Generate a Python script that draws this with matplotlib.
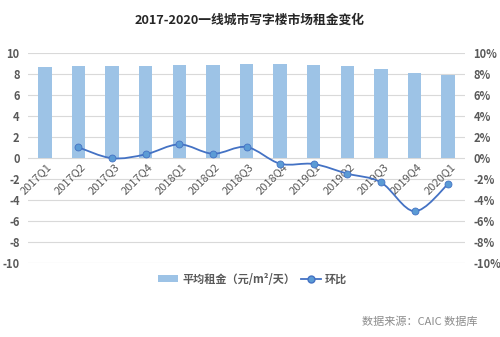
import matplotlib
matplotlib.use("Agg")
import matplotlib.pyplot as plt
from matplotlib.path import Path
from matplotlib.patches import PathPatch
from matplotlib.lines import Line2D
from matplotlib.patches import Patch
import numpy as np

plt.rcParams['font.family'] = ['Noto Sans CJK SC', 'DejaVu Sans']

categories = ["2017Q1", "2017Q2", "2017Q3", "2017Q4", "2018Q1", "2018Q2", "2018Q3",
              "2018Q4", "2019Q1", "2019Q2", "2019Q3", "2019Q4", "2020Q1"]
rent = [8.61, 8.70, 8.70, 8.70, 8.80, 8.86, 8.95, 8.90, 8.80, 8.70, 8.48, 8.04, 7.85]
qoq = [None, 0.99, -0.05, 0.32, 1.27, 0.38, 1.02, -0.57, -0.60, -1.52, -2.35, -5.10, -2.50]
left_ticks = [10, 8, 6, 4, 2, 0, -2, -4, -6, -8, -10]
right_ticks = ["10%", "8%", "6%", "4%", "2%", "0%", "-2%", "-4%", "-6%", "-8%", "-10%"]

bar_color = "#9DC3E6"
line_color = "#4472C4"
marker_color = "#5B9BD5"
tick_color = "#595959"
grid_color = "#D9D9D9"

fig = plt.figure(figsize=(5.0, 3.37), dpi=100)
ax = fig.add_axes([0.056, 0.2205, 0.874, 0.623])
ax2 = ax.twinx()

x = np.arange(len(categories))
ax.bar(x, rent, width=0.4, color=bar_color, zorder=2)
ax.set_ylim(-10, 10)
ax.set_xlim(-0.5, len(categories) - 0.5)
ax.set_yticks(left_ticks)
ax.set_yticklabels([str(t) for t in left_ticks])
ax.yaxis.grid(True, color=grid_color, linewidth=0.8, zorder=0)
ax.set_axisbelow(True)
ax.set_xticks([])
for s in ax.spines.values():
    s.set_visible(False)
for s in ax2.spines.values():
    s.set_visible(False)
ax.tick_params(axis='y', length=0, labelsize=8, labelcolor=tick_color, pad=6)
for lab in ax.get_yticklabels():
    lab.set_fontweight('bold')

ax2.set_ylim(-10, 10)
ax2.set_yticks(left_ticks)
ax2.set_yticklabels(right_ticks)
ax2.tick_params(axis='y', length=0, labelsize=8, labelcolor=tick_color, pad=6)
for lab in ax2.get_yticklabels():
    lab.set_fontweight('bold')

# smoothed line (Catmull-Rom as cubic Bezier)
px = [xi for xi, v in zip(x, qoq) if v is not None]
py = [v for v in qoq if v is not None]
pts = np.column_stack([px, py]).astype(float)
verts = [tuple(pts[0])]
codes = [Path.MOVETO]
n = len(pts)
for i in range(n - 1):
    p0 = pts[i - 1] if i > 0 else pts[i]
    p1 = pts[i]
    p2 = pts[i + 1]
    p3 = pts[i + 2] if i + 2 < n else pts[i + 1]
    c1 = p1 + (p2 - p0) / 6.0
    c2 = p2 - (p3 - p1) / 6.0
    verts += [tuple(c1), tuple(c2), tuple(p2)]
    codes += [Path.CURVE4] * 3
ax2.add_patch(PathPatch(Path(verts, codes), facecolor='none', edgecolor=line_color,
                        linewidth=1.3, zorder=3))
ax2.plot(px, py, linestyle='none', marker='o', markersize=5, color=marker_color,
         markeredgecolor=line_color, markeredgewidth=0.6, zorder=4)

# category labels at the zero line
for xi, c in zip(x, categories):
    ax.text(xi + 0.05, -0.35, c, rotation=45, ha='right', va='top',
            fontsize=8, color=tick_color, rotation_mode='anchor', zorder=5)

fig.text(0.5, 0.94, "2017-2020一线城市写字楼市场租金变化", ha='center', va='center',
         fontsize=9.2, fontweight='bold', color='#262626')

handles = [Patch(facecolor=bar_color, edgecolor='none'),
           Line2D([0], [0], color=line_color, marker='o', markersize=5,
                  markerfacecolor=marker_color, markeredgecolor=line_color, linewidth=1.3)]
leg = fig.legend(handles, ["平均租金（元/m²/天）", "环比"], loc='center',
                 bbox_to_anchor=(0.505, 0.172), ncol=2, frameon=False, fontsize=8,
                 handlelength=1.8, handleheight=0.5, columnspacing=0.5, handletextpad=0.4)
for t in leg.get_texts():
    t.set_color(tick_color)
    t.set_fontweight('bold')

fig.text(0.956, 0.045, "数据来源：CAIC 数据库", ha='right', va='center',
         fontsize=8, color='#8C8C8C')

fig.savefig("out.png", dpi=100, facecolor='white')
